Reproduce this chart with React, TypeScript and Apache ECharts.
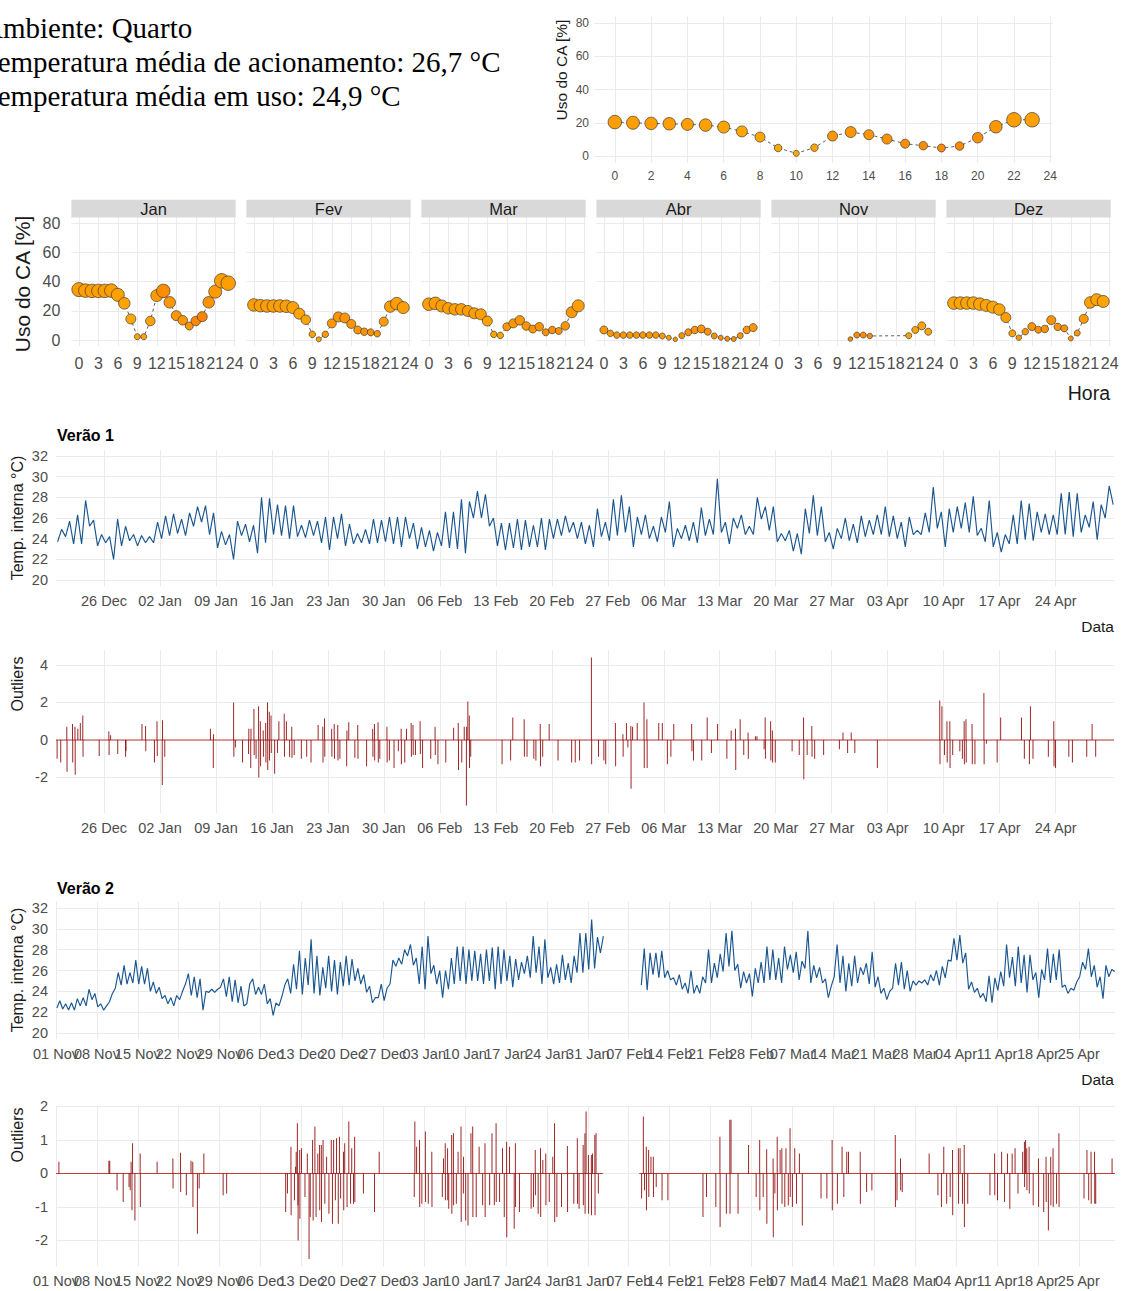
import React, { useEffect, useRef } from 'react';
import * as echarts from 'echarts';

// ---------------- DATA ----------------
const horas = [0, 1, 2, 3, 4, 5, 6, 7, 8, 9, 10, 11, 12, 13, 14, 15, 16, 17, 18, 19, 20, 21, 22, 23];
const horasTicks2 = [0, 2, 4, 6, 8, 10, 12, 14, 16, 18, 20, 22, 24];
const horasTicks3 = [0, 3, 6, 9, 12, 15, 18, 21, 24];
const usoTicks = [0, 20, 40, 60, 80];

// overall hourly AC use (%), marker weight and colour tone
const usoGeral = [20.4, 20, 19.6, 19.4, 19, 18.6, 17.4, 14.8, 11.4, 4.8, 1.6, 5, 12, 14.4, 12.8, 10.2, 7.4, 6.2, 4.8, 6, 11, 17.6, 21.8, 21.8];
const pesoGeral = [13.5, 13, 12.5, 12.5, 12, 12.5, 12, 11, 10, 7.5, 6, 7.5, 10, 11, 10, 10, 9, 8.5, 8, 8.5, 10.5, 12.5, 14.5, 14.5];
const tomGeral = [0.4, 0.4, 0.4, 0.4, 0.4, 0.35, 0.3, 0.25, 0.3, 0.2, 0.2, 0.3, 0.5, 0.55, 0.55, 0.6, 0.65, 0.7, 0.75, 0.75, 0.65, 0.5, 0.4, 0.35];

const meses = ['Jan', 'Fev', 'Mar', 'Abr', 'Nov', 'Dez'];
const usoJan = [34.5, 33.8, 33.6, 33.6, 33.6, 33.8, 30.9, 25.1, 14.4, 2.3, 2.3, 13, 30.4, 33.6, 25.8, 16.7, 13.5, 9.6, 13, 16, 25.8, 33.1, 40.5, 38.9];
const pesoJan = [14, 13.5, 13.5, 13.5, 13.5, 13.5, 13, 11.5, 10, 6, 6, 9.5, 12, 13.5, 11.5, 10, 9.5, 8, 9.5, 10, 11.5, 13, 14.5, 14.5];
const tomJan = [0.4, 0.4, 0.4, 0.4, 0.4, 0.4, 0.35, 0.3, 0.3, 0.3, 0.3, 0.35, 0.45, 0.7, 0.5, 0.5, 0.5, 0.5, 0.8, 0.85, 0.6, 0.45, 0.4, 0.4];
const usoFev = [24, 23.5, 23.3, 23.3, 23.3, 23.1, 22.2, 18, 13.9, 3.9, 0.5, 3.9, 11.4, 15.8, 15.1, 11, 6.9, 5.7, 5.3, 4.3, 12.6, 22.9, 24.9, 22.2];
const pesoFev = [12.5, 12.5, 12.5, 12.5, 12.5, 12.5, 12, 11, 9.5, 6.5, 5, 6.5, 9, 10, 10, 9, 8, 7.5, 7, 6.5, 9, 11.5, 12.5, 12];
const tomFev = [0.4, 0.4, 0.4, 0.4, 0.4, 0.4, 0.35, 0.3, 0.3, 0.3, 0.3, 0.45, 0.5, 0.55, 0.55, 0.55, 0.55, 0.6, 0.6, 0.5, 0.45, 0.4, 0.4, 0.4];
const usoMar = [24.5, 25.1, 23.3, 21.7, 21, 21, 19.9, 18.3, 17.6, 13, 3.9, 3.2, 9.1, 11.4, 13.5, 9.6, 7.5, 9.1, 5.3, 6.9, 6.2, 9.7, 19, 23.4];
const pesoMar = [12.5, 12.5, 12, 11.5, 11.5, 11.5, 11, 11, 11, 10, 6.5, 6.5, 8, 9, 9.5, 8.5, 8, 8.5, 7, 7.5, 7, 8.5, 11, 12];
const tomMar = [0.4, 0.4, 0.4, 0.4, 0.4, 0.4, 0.4, 0.4, 0.4, 0.35, 0.3, 0.3, 0.5, 0.5, 0.55, 0.55, 0.55, 0.6, 0.65, 0.65, 0.6, 0.55, 0.5, 0.4];
const usoAbr = [6.9, 4.6, 3.4, 3.4, 3.4, 3.4, 3.4, 3.4, 3.4, 2.8, 1.6, 0.5, 3, 5.3, 6.9, 7.6, 5.7, 2.8, 1.6, 0.9, 0.7, 3, 6.9, 8.5];
const pesoAbr = [8, 6.5, 6.5, 6.5, 6.5, 6.5, 6.5, 6.5, 6.5, 6, 5, 4.5, 6, 7, 7.5, 8, 7, 6, 5, 5, 5, 6, 7.5, 8];
const tomAbr = [0.5, 0.5, 0.5, 0.5, 0.5, 0.5, 0.5, 0.5, 0.5, 0.45, 0.5, 0.6, 0.6, 0.6, 0.6, 0.6, 0.6, 0.65, 0.65, 0.65, 0.65, 0.6, 0.55, 0.5];
const usoNov = [null, null, null, null, null, null, null, null, null, null, null, 0.7, 3.4, 3.4, 2.8, null, null, null, null, null, 3.0, 6.9, 9.7, 5.7];
const pesoNov = [null, null, null, null, null, null, null, null, null, null, null, 4.5, 6, 6, 5.5, null, null, null, null, null, 6, 7, 8, 7];
const tomNov = [null, null, null, null, null, null, null, null, null, null, null, 0.7, 0.7, 0.7, 0.7, null, null, null, null, null, 0.3, 0.3, 0.3, 0.3];
const usoDez = [25.3, 25.3, 25.3, 25.3, 24.6, 23.7, 22.5, 20.9, 15.4, 4.6, 1.6, 5.7, 9.2, 7.1, 7.6, 13.6, 9, 8, 1.1, 4.8, 14.5, 25.7, 27.6, 26.4];
const pesoDez = [12.5, 12.5, 12.5, 12.5, 12.5, 12, 12, 11.5, 10, 7, 5.5, 6.5, 8, 7, 7.5, 9, 7.5, 7, 5, 6, 9, 11.5, 12, 12];
const tomDez = [0.3, 0.3, 0.3, 0.3, 0.3, 0.3, 0.3, 0.3, 0.4, 0.35, 0.5, 0.55, 0.6, 0.6, 0.6, 0.6, 0.6, 0.6, 0.6, 0.5, 0.45, 0.35, 0.3, 0.3];

// Verão 1: indoor temperature, two readings per day (morning low, afternoon high) from 20 Dec
const v1Temp = [
  23.7, 24.9, 24.2, 25.7, 23.5, 26.3, 23.5, 27.7, 25.2, 25.8, 23.3, 24.4, 23.6, 24.2, 22.0, 25.9, 23.3, 25.2, 23.8, 24.4,
  23.3, 24.3, 23.6, 24.2, 23.6, 25.6, 24.0, 26.2, 24.3, 26.4, 24.5, 25.9, 24.3, 26.5, 25.2, 27.1, 25.6, 27.2, 24.4, 26.5,
  23.1, 24.7, 23.4, 24.4, 22.0, 25.7, 24.3, 25.4, 23.7, 25.3, 22.6, 28.0, 23.6, 27.9, 24.4, 27.3, 24.3, 27.2, 24.0, 27.2,
  24.2, 25.3, 24.1, 25.8, 24.3, 25.7, 23.6, 26.1, 22.9, 26.1, 24.0, 26.4, 23.3, 25.4, 23.5, 24.5, 23.6, 24.9, 23.5, 25.9,
  23.6, 25.8, 23.7, 26.1, 23.5, 26.1, 23.2, 26.1, 24.0, 25.5, 23.0, 25.1, 23.2, 24.8, 22.8, 24.6, 23.3, 26.6, 23.1, 26.6,
  23.0, 27.8, 22.6, 27.6, 26.0, 28.6, 26.0, 28.3, 25.2, 26.0, 23.3, 25.5, 22.9, 25.5, 23.1, 25.9, 22.9, 25.8, 23.2, 25.3,
  23.2, 26.0, 22.9, 25.9, 24.0, 25.9, 24.3, 26.2, 24.6, 25.6, 24.0, 25.6, 23.5, 25.3, 23.2, 26.9, 24.2, 25.6, 23.8, 27.8,
  24.3, 28.2, 24.6, 27.1, 23.2, 26.1, 24.4, 26.3, 24.0, 25.2, 23.7, 26.1, 24.6, 27.6, 23.2, 25.0, 24.0, 25.3, 23.8, 25.6,
  23.6, 27.0, 24.3, 25.9, 24.4, 29.8, 24.6, 25.6, 23.5, 26.0, 25.0, 26.3, 24.4, 25.2, 24.4, 28.0, 25.9, 27.1, 24.8, 27.1,
  23.7, 24.5, 23.8, 24.8, 22.8, 24.5, 22.5, 26.9, 24.5, 28.2, 24.3, 27.1, 23.7, 24.6, 23.0, 25.0, 24.0, 26.0, 23.8, 25.4,
  23.6, 26.2, 24.2, 25.8, 24.4, 26.3, 24.4, 27.1, 24.2, 26.2, 24.0, 25.6, 23.2, 26.1, 24.4, 24.8, 24.4, 26.5, 24.6, 29.0,
  25.0, 26.6, 23.2, 26.9, 24.6, 27.1, 25.0, 27.5, 24.6, 28.1, 24.3, 25.0, 23.7, 27.7, 23.2, 24.6, 22.7, 24.4, 23.5, 26.3,
  23.5, 27.7, 23.9, 27.4, 23.8, 26.6, 24.6, 26.4, 24.4, 26.3, 24.4, 28.4, 24.4, 28.5, 24.2, 28.4, 24.6, 26.3, 25.1, 27.6,
  23.9, 27.3, 26.0, 29.1, 27.3,
];
const v1TickDias = [6, 13, 20, 27, 34, 41, 48, 55, 62, 69, 76, 83, 90, 97, 104, 111, 118, 125];
const v1TickRotulos = ['26 Dec', '02 Jan', '09 Jan', '16 Jan', '23 Jan', '30 Jan', '06 Feb', '13 Feb', '20 Feb', '27 Feb', '06 Mar', '13 Mar', '20 Mar', '27 Mar', '03 Apr', '10 Apr', '17 Apr', '24 Apr'];
// [day since 20 Dec, outlier value]
const v1Outliers = [
  [0.14, -1.0], [0.59, -1.2], [1.35, 0.7], [1.38, -1.7], [2.06, 0.85], [2.09, -1.2], [2.37, 0.7], [2.40, -1.85], [2.73, 0.6], [3.04, 0.9],
  [3.35, 1.3], [3.38, -0.9], [5.40, -0.85], [6.61, 0.45], [6.64, -0.8], [6.83, 0.25], [7.72, -0.75], [8.70, -0.9], [8.75, -0.6], [10.75, 0.85],
  [11.20, 0.75], [11.23, -0.6], [12.31, -1.2], [12.63, 1.0], [12.66, -0.85], [13.29, -2.4], [13.32, 1.05], [13.60, -0.9], [19.31, 0.6], [19.67, -1.5],
  [19.70, 0.3], [22.21, 2.0], [22.24, -0.9], [22.43, -0.4], [23.32, -1.2], [24.08, -0.75], [24.11, 0.6], [24.35, -1.5], [24.38, 0.6], [24.75, 1.65],
  [24.78, -0.8], [25.02, -1.0], [25.33, 1.8], [25.36, -2.0], [25.55, 1.0], [25.58, -1.4], [25.91, 0.5], [25.94, -0.9], [26.22, 0.9], [26.25, -1.2],
  [26.45, 2.0], [26.48, -1.6], [26.67, 1.5], [26.70, -1.1], [26.89, 1.3], [26.92, -0.7], [27.34, -1.8], [27.69, -0.7], [27.87, 1.0], [28.54, 1.4],
  [28.57, -0.9], [28.81, 1.0], [29.21, -0.9], [29.48, 0.7], [29.51, -0.95], [29.79, -0.8], [30.68, -1.0], [31.35, -0.9], [31.89, -1.2], [32.78, 0.8],
  [33.36, 0.7], [33.39, -1.2], [33.58, 1.15], [33.61, -0.9], [34.47, 0.6], [34.50, -0.9], [34.79, 0.85], [34.82, -1.0], [35.23, 0.8], [35.26, -1.1],
  [35.50, -1.0], [36.35, -1.4], [36.38, 0.5], [36.61, 0.95], [37.37, -0.95], [37.73, 0.8], [37.76, -1.0], [38.84, -1.4], [39.60, 0.6], [39.63, -0.9],
  [39.82, 0.85], [39.85, -1.1], [40.27, 0.95], [40.30, -1.2], [40.49, -1.0], [41.38, 0.7], [41.41, -1.2], [41.69, -1.1], [42.27, -1.5], [42.81, -0.6],
  [43.16, 0.6], [43.19, -1.3], [43.61, -1.2], [43.83, 0.6], [44.41, 0.9], [44.44, -0.9], [44.64, 0.8], [44.67, -0.8], [44.95, -0.8], [45.53, 1.0],
  [45.56, -0.75], [45.84, -1.5], [46.86, -1.0], [47.40, 0.7], [47.43, -0.8], [47.76, -1.3], [48.74, -1.2], [49.72, 0.65], [50.30, 0.9], [50.33, -1.6],
  [50.74, -1.2], [51.05, 0.7], [51.32, -3.5], [51.35, 0.7], [51.50, 2.05], [51.68, 1.3], [51.71, -1.5], [51.86, -0.9], [55.78, -1.3], [56.85, -1.1],
  [57.12, 1.2], [58.54, 1.1], [58.57, -0.9], [58.90, -0.9], [59.75, -1.0], [60.01, -1.1], [60.55, 0.85], [60.58, -1.4], [60.86, -0.9], [61.67, 0.85],
  [62.78, -1.1], [64.48, -1.2], [64.93, -1.2], [65.47, -1.1], [66.95, 4.4], [66.98, -1.3], [67.84, -0.9], [68.51, -1.1], [68.74, -1.3], [69.95, 0.9],
  [69.98, -1.4], [70.89, 0.3], [70.92, -0.9], [71.33, 0.9], [71.51, -0.4], [71.88, 0.75], [71.91, -2.6], [72.10, 0.7], [72.68, 0.9], [73.53, 2.0],
  [73.56, -1.5], [73.89, 1.1], [73.92, -1.5], [75.37, 0.9], [75.82, 0.9], [76.45, -1.3], [76.89, -0.9], [77.25, 0.85], [79.49, 0.85], [79.52, -0.6],
  [79.72, -1.1], [80.75, -1.1], [81.43, 1.2], [81.96, -0.7], [82.73, 0.85], [83.89, -1.0], [84.43, 0.5], [84.97, 0.6], [85.00, -1.6], [85.55, 1.1],
  [86.00, -0.8], [86.54, 0.4], [86.57, -1.0], [87.46, 0.2], [87.65, 0.2], [88.55, -0.5], [88.68, 1.2], [88.71, -1.0], [89.36, 1.0], [89.39, -1.1],
  [89.58, 0.5], [89.61, -1.2], [89.94, -1.2], [92.05, -0.6], [92.94, -0.8], [93.48, 1.2], [93.51, -2.1], [93.93, -0.8], [94.51, 0.75], [94.54, -0.9],
  [94.87, -1.0], [95.99, -0.8], [97.96, -0.5], [98.41, 0.4], [98.99, -0.7], [99.44, 0.4], [99.89, -0.7], [102.71, -1.5], [110.51, 2.1], [110.54, -1.3],
  [110.78, 1.8], [111.10, -0.8], [111.41, 1.0], [111.44, -1.2], [111.77, 1.0], [111.80, -1.5], [112.13, -0.8], [113.02, -0.6], [113.34, -1.0], [113.56, 1.0],
  [113.59, -1.3], [113.79, 1.1], [113.82, -1.2], [114.55, 0.85], [114.58, -1.3], [114.91, -1.3], [116.03, 2.5], [116.06, -1.3], [116.34, -0.2], [117.69, -1.2],
  [118.13, 1.2], [120.73, 1.2], [121.09, -1.0], [121.72, -1.3], [121.85, 1.8], [122.17, -1.0], [124.09, -0.9], [124.77, 1.0], [124.80, -1.4], [124.99, -1.5],
  [126.65, -0.9], [127.10, -1.2], [128.89, -0.9], [129.56, 0.85], [130.01, -0.9],
];
const v1Trechos = [[0, 132.3]];

// Verão 2: indoor temperature, two readings per day from 01 Nov (null = no data)
const v2Temp = [
  22.4, 23.1, 22.3, 22.8, 22.2, 22.9, 22.2, 23.3, 22.6, 23.4, 22.6, 24.2, 23.2, 23.8, 22.5, 22.8, 22.2, 22.6, 23.0, 23.8,
  24.3, 25.8, 24.6, 26.5, 24.7, 25.8, 24.8, 27.0, 24.7, 26.4, 24.7, 26.2, 24.0, 24.9, 23.8, 24.4, 23.3, 23.6, 22.8, 23.4,
  22.6, 23.6, 23.2, 24.0, 24.7, 25.7, 23.6, 25.4, 23.4, 25.2, 22.2, 24.0, 23.9, 24.2, 23.9, 24.2, 24.4, 25.2, 23.5, 25.4,
  23.0, 25.1, 22.9, 24.5, 22.6, 22.8, 24.7, 25.2, 23.7, 24.4, 23.7, 24.7, 22.8, 23.3, 21.7, 22.9, 22.6, 23.5, 24.6, 25.2,
  23.8, 26.6, 24.2, 27.9, 23.7, 27.2, 24.6, 29.0, 23.8, 27.4, 23.6, 26.3, 24.3, 27.4, 24.0, 27.0, 23.7, 26.8, 24.5, 27.4,
  24.6, 27.1, 25.0, 26.2, 24.7, 25.6, 23.9, 24.5, 22.9, 23.4, 23.4, 24.7, 23.1, 24.3, 24.7, 27.0, 26.4, 27.2, 26.6, 28.0,
  27.4, 28.5, 26.5, 27.2, 24.7, 28.3, 24.2, 29.3, 25.7, 26.5, 24.7, 26.0, 23.4, 26.0, 24.2, 27.2, 24.7, 28.3, 25.0, 28.3,
  24.7, 28.0, 25.0, 27.9, 25.0, 27.6, 24.7, 28.0, 25.0, 28.2, 24.2, 28.3, 24.7, 28.0, 25.0, 27.4, 24.4, 27.1, 25.1, 26.8,
  25.7, 27.4, 25.3, 29.3, 25.8, 28.3, 24.7, 29.0, 25.3, 26.3, 24.7, 26.6, 24.8, 27.5, 25.1, 26.7, 24.8, 27.4, 25.8, 29.6,
  25.8, 29.6, 26.1, 30.9, 26.2, 29.2, 27.7, 29.3,
  null, null, null, null, null, null, null, null, null, null, null, null,
  24.6, 28.1, 24.1, 27.7, 25.6, 27.7, 25.3, 27.9, 25.3, 26.0, 25.1, 25.3, 24.6, 25.6, 24.2, 24.8, 23.8, 26.0, 23.8, 24.6,
  23.8, 25.4, 24.8, 28.0, 24.8, 26.7, 25.3, 27.6, 25.9, 29.6, 26.4, 29.8, 26.0, 26.6, 24.3, 25.9, 24.8, 25.7, 23.5, 26.2,
  24.8, 26.8, 24.8, 28.3, 25.1, 28.0, 25.1, 27.2, 24.8, 28.3, 26.1, 27.5, 25.8, 27.8, 25.1, 26.9, 26.2, 29.8, 24.8, 26.5,
  25.3, 26.3, 24.8, 25.2, 23.4, 24.5, 25.4, 28.5, 24.8, 27.4, 24.0, 26.7, 24.5, 27.4, 24.8, 26.3, 25.6, 26.7, 24.7, 27.8,
  24.4, 25.4, 23.8, 24.3, 23.2, 24.0, 24.3, 26.7, 24.6, 26.8, 24.2, 26.0, 24.0, 25.0, 24.6, 25.0, 24.8, 25.1, 24.6, 25.6,
  25.0, 26.0, 24.6, 26.4, 25.3, 27.0, 26.9, 29.1, 27.0, 29.4, 26.7, 27.7, 24.2, 24.9, 23.9, 24.3, 23.4, 23.8, 23.0, 25.5,
  22.9, 25.3, 24.1, 25.9, 24.5, 28.5, 25.3, 27.3, 24.5, 28.3, 24.8, 27.5, 23.9, 27.5, 25.1, 25.8, 23.4, 26.1, 25.1, 28.1,
  24.8, 27.6, 25.1, 28.0, 24.4, 24.6, 23.8, 24.3, 24.1, 24.9, 25.4, 26.8, 26.1, 28.1, 25.4, 26.5, 24.4, 25.4, 23.3, 26.5,
  25.4, 26.1, 25.9,
];
const v2TickDias = [0, 7, 14, 21, 28, 35, 42, 49, 56, 63, 70, 77, 84, 91, 98, 105, 112, 119, 126, 133, 140, 147, 154, 161, 168, 175];
const v2TickRotulos = ['01 Nov', '08 Nov', '15 Nov', '22 Nov', '29 Nov', '06 Dec', '13 Dec', '20 Dec', '27 Dec', '03 Jan', '10 Jan', '17 Jan', '24 Jan', '31 Jan', '07 Feb', '14 Feb', '21 Feb', '28 Feb', '07 Mar', '14 Mar', '21 Mar', '28 Mar', '04 Apr', '11 Apr', '18 Apr', '25 Apr'];
// [day since 01 Nov, outlier value]
const v2Outliers = [
  [0.5, 0.35], [9.05, 0.38], [9.2, 0.38], [10.45, -0.5], [11.5, -0.85], [12.5, -0.4], [12.7, -0.5], [12.85, 0.35], [13.0, -1.1], [13.1, 0.9],
  [13.5, -1.4], [14.4, 0.6], [14.43, -1.0], [17.3, 0.35], [20.0, 0.45], [20.03, -0.45], [21.3, 0.62], [21.33, -0.55], [22.3, -0.65], [23.1, 0.38],
  [23.4, 0.35], [23.43, -1.0], [24.2, -1.8], [24.5, -0.45], [25.3, 0.6], [28.6, -0.65], [29.2, -0.6], [39.3, -1.15], [39.6, -0.6], [40.2, 0.8],
  [40.23, -1.25], [40.8, -0.8], [41.0, 0.2], [41.1, 0.65], [41.3, 1.5], [41.4, -0.95], [41.43, -2.0], [41.7, 0.7], [41.73, -1.35], [42.0, 0.75],
  [42.6, -0.7], [43.0, 0.6], [43.3, -2.55], [43.5, -1.3], [43.9, 1.0], [44.0, -1.4], [44.3, 1.4], [44.5, -1.3], [44.8, 0.6], [45.1, 0.85],
  [45.13, -1.1], [45.4, 0.85], [45.43, -1.45], [45.7, 1.0], [46.0, -0.9], [46.3, 0.5], [46.7, -1.2], [47.1, 1.0], [47.3, -1.5], [47.5, 1.0],
  [47.8, -0.8], [48.0, 1.05], [48.3, -1.5], [48.5, 1.1], [48.7, -0.75], [49.2, 0.65], [49.23, -1.1], [49.4, 0.9], [49.8, -1.0], [50.1, 1.55],
  [50.4, -0.9], [50.6, 0.75], [50.9, -0.9], [51.1, 1.1], [51.13, -0.85], [52.6, -0.6], [54.5, -1.15], [55.3, 0.65], [61.3, -0.7], [61.4, 1.55],
  [61.7, 0.8], [62.2, 1.0], [62.23, -1.0], [62.6, -0.9], [63.2, 1.25], [63.23, -0.85], [63.7, -0.9], [64.3, 0.65], [64.33, -1.0], [66.1, -0.7],
  [66.3, 0.45], [66.6, 0.9], [66.63, -0.8], [67.0, 0.75], [67.03, -0.8], [67.2, -1.05], [67.7, 1.15], [67.73, -1.2], [68.0, 1.2], [68.03, -0.95],
  [68.5, -0.9], [68.8, 0.65], [69.3, 1.4], [69.33, -1.45], [69.7, -0.6], [69.73, 0.5], [70.1, -1.4], [70.5, -1.55], [71.0, 1.2], [71.3, 1.4],
  [71.33, -1.3], [71.9, -1.3], [72.4, 0.8], [73.0, -0.95], [73.4, 0.9], [73.43, -1.3], [74.2, -0.95], [74.6, 1.2], [75.0, -0.95], [75.3, 1.5],
  [75.33, -0.85], [75.9, -0.85], [76.4, 0.75], [76.7, -1.3], [77.1, 0.95], [77.13, -1.9], [77.6, 0.8], [78.4, -1.65], [78.6, 0.9], [78.63, -1.0],
  [79.3, -1.15], [81.3, -1.05], [81.7, -1.0], [82.0, 0.7], [82.03, -0.65], [82.5, -1.2], [82.9, 0.75], [82.93, -1.3], [83.3, 0.4], [83.8, 0.6],
  [83.83, -0.95], [84.4, -0.85], [85.0, 0.5], [85.3, 1.5], [85.33, -1.45], [85.7, -1.3], [86.5, -1.0], [87.5, 0.82], [87.53, -1.15], [88.6, -0.9],
  [89.2, 1.05], [89.23, -0.9], [89.5, -1.05], [90.2, 0.85], [90.23, -0.95], [90.5, 1.2], [90.53, -1.2], [90.7, 1.85], [91.1, 0.55], [91.13, -1.2],
  [91.6, 0.55], [91.63, -1.25], [91.8, 0.6], [92.2, 1.15], [92.23, -1.25], [92.4, 1.2], [92.8, -0.6], [100.2, -0.75], [100.5, 1.7], [100.7, -0.5],
  [101.0, 0.8], [101.03, -1.1], [101.4, 0.7], [101.43, -0.7], [101.8, 0.5], [102.2, 0.5], [102.23, -0.7], [102.7, -0.4], [103.7, -0.8], [104.7, -0.8],
  [110.7, -1.3], [111.3, -0.7], [112.9, -1.0], [113.6, 1.1], [113.63, -1.6], [114.7, -1.2], [115.3, 1.6], [115.33, -1.2], [115.5, 1.6], [116.7, -1.2],
  [118.5, 0.85], [119.8, -0.7], [120.4, 1.0], [120.43, -1.1], [121.0, -0.7], [121.6, 0.72], [121.63, -1.5], [122.7, 0.45], [122.73, -1.9], [123.0, -0.6],
  [123.4, 1.1], [123.43, -1.1], [123.9, 0.7], [124.2, 0.75], [124.23, -0.9], [124.7, -1.0], [124.9, 0.75], [125.3, -0.95], [125.6, 1.35], [125.63, -0.7],
  [126.0, -1.0], [126.4, 0.75], [126.7, -0.9], [127.2, 0.6], [127.7, -1.55], [130.9, -0.75], [131.9, -0.75], [132.8, 1.0], [132.83, -1.1], [133.7, -0.9],
  [134.5, 0.8], [134.8, -0.7], [135.3, 0.65], [135.6, 0.65], [137.6, 0.65], [137.63, -0.9], [138.7, -0.55], [139.6, -0.5], [143.6, 1.15], [143.63, -1.0],
  [143.9, -0.8], [144.5, 0.45], [144.53, -0.5], [144.8, -0.55], [149.4, 0.6], [150.9, -0.65], [151.5, -1.0], [151.9, 0.8], [152.4, -0.9], [153.0, -0.7],
  [153.4, 0.7], [153.43, -1.25], [154.4, 0.75], [154.43, -0.9], [154.7, 0.75], [155.1, -0.9], [155.4, 0.85], [155.43, -1.6], [156.0, -0.9], [159.8, -0.65],
  [160.6, 0.6], [160.63, -0.65], [161.1, -0.8], [161.8, 0.65], [162.3, -0.85], [162.8, 0.6], [163.2, -1.05], [163.6, 0.6], [164.1, 0.75], [164.6, -0.6],
  [165.4, 0.65], [165.7, 0.95], [165.73, -0.4], [165.9, 1.0], [166.1, 0.75], [166.13, -0.5], [166.5, 0.8], [166.53, -0.6], [167.2, -0.95], [168.1, 0.45],
  [168.13, -1.0], [169.0, -1.15], [169.4, 0.5], [169.43, -0.85], [169.8, -1.7], [170.2, 0.5], [170.23, -0.95], [170.6, 0.75], [170.63, -1.0], [171.2, -0.9],
  [171.6, 1.2], [171.63, -1.0], [175.9, -0.75], [176.4, 0.7], [176.7, -0.8], [177.1, 0.65], [177.13, -0.9], [177.7, 0.65], [177.73, -0.9], [177.9, -0.9],
  [180.7, 0.45],
];
const v2Trechos = [[0, 93.6], [99.8, 181.2]];

const tempTicks = [20, 22, 24, 26, 28, 30, 32];
const out1Ticks = [-2, 0, 2, 4];
const out2Ticks = [-2, -1, 0, 1, 2];

// ---------------- STYLE ----------------
const SANS = "'Liberation Sans', Arial, Helvetica, sans-serif";
const SERIF = "'Liberation Serif', 'Times New Roman', Times, serif";
const GRID = '#EBEBEB';
const TXT = '#4D4D4D';
const TITLE = '#1A1A1A';
const LINE_BLUE = '#1A5690';
const SPIKE = 'rgba(139,0,0,0.85)';
const BASE = 'rgba(178,30,30,0.85)';
const ORANGE_LIGHT = [255, 182, 0];
const ORANGE_DARK = [255, 122, 0];

function corTom(t: number) {
  const c = ORANGE_LIGHT.map((a, i) => Math.round(a + (ORANGE_DARK[i] - a) * t));
  return `rgb(${c[0]},${c[1]},${c[2]})`;
}

function eixo(gridIndex: number, min: number, max: number, ticks: number[], o: any) {
  return {
    type: 'value',
    gridIndex,
    min,
    max,
    position: o.position,
    axisLine: { show: false },
    axisTick: { show: false, customValues: ticks },
    axisLabel: {
      show: o.show !== false,
      customValues: o.labelTicks || ticks,
      showMinLabel: true,
      showMaxLabel: true,
      hideOverlap: false,
      fontSize: o.fs,
      color: TXT,
      fontFamily: SANS,
      margin: o.margin,
      formatter: o.fmt,
    },
    splitLine: { show: o.split !== false, lineStyle: { color: GRID, width: 1 } },
  };
}

function texto(x: number, y: number, text: string, o: any = {}) {
  const align = o.align || 'left';
  return {
    type: 'text',
    x,
    y,
    rotation: o.rot || 0,
    silent: true,
    z: 100,
    style: {
      text,
      fill: o.color || TITLE,
      font: `${o.weight || 'normal'} ${o.size || 14}px ${o.family || SANS}`,
      align,
      textAlign: align,
      verticalAlign: 'middle',
      textVerticalAlign: 'middle',
    },
  };
}

function buildOption() {
  const grid: any[] = [];
  const xAxis: any[] = [];
  const yAxis: any[] = [];
  const series: any[] = [];
  const elements: any[] = [];

  const addDots = (gi: number, uso: any[], peso: any[], tom: any[]) => {
    const pts = horas.map((h, i) => [h, uso[i], peso[i], tom[i]]).filter((p) => p[1] != null);
    series.push({
      type: 'line', xAxisIndex: gi, yAxisIndex: gi, data: pts.map((p) => [p[0], p[1]]),
      symbol: 'none', silent: true, z: 2,
      lineStyle: { color: '#333333', width: 0.8, type: [3, 3] },
    });
    series.push({
      type: 'scatter', xAxisIndex: gi, yAxisIndex: gi, data: pts, silent: true, z: 3,
      symbolSize: (v: any) => v[2],
      itemStyle: { color: (p: any) => corTom(p.value[3]), borderColor: '#3a3a3a', borderWidth: 0.7, opacity: 1 },
    });
  };

  // ---- top overall scatter ----
  grid.push({ left: 594, top: 16.35, width: 459, height: 146.3 });
  xAxis.push(eixo(0, -1.15, 24.15, horasTicks2, { fs: 12, margin: 7 }));
  yAxis.push(eixo(0, -4, 84, usoTicks, { fs: 12, margin: 5 }));
  addDots(0, usoGeral, pesoGeral, tomGeral);
  elements.push(texto(561, 70, 'Uso do CA [%]', { rot: Math.PI / 2, align: 'center', size: 15.5 }));

  // ---- monthly facets ----
  const facetas = [
    [usoJan, pesoJan, tomJan], [usoFev, pesoFev, tomFev], [usoMar, pesoMar, tomMar],
    [usoAbr, pesoAbr, tomAbr], [usoNov, pesoNov, tomNov], [usoDez, pesoDez, tomDez],
  ];
  facetas.forEach((f, i) => {
    const gi = 1 + i;
    const left = 71.4 + 175 * i;
    grid.push({ left, top: 217.2, width: 164.3, height: 128.7 });
    xAxis.push(eixo(gi, -1.15, 24.15, horasTicks3, { fs: 16, margin: 10 }));
    yAxis.push(eixo(gi, -4, 84, usoTicks, { fs: 16, margin: 11, show: i === 0 }));
    addDots(gi, f[0], f[1], f[2]);
    elements.push({ type: 'rect', silent: true, z: 50, shape: { x: left, y: 199.8, width: 164.3, height: 17.6 }, style: { fill: '#D9D9D9' } });
    elements.push(texto(left + 82.15, 208.8, meses[i], { align: 'center', size: 16.5 }));
  });
  elements.push(texto(22, 284, 'Uso do CA [%]', { rot: Math.PI / 2, align: 'center', size: 21 }));
  elements.push(texto(1110, 393, 'Hora', { align: 'right', size: 19.5 }));

  const fmtDias = (dias: number[], rot: string[]) => (v: number) => {
    const k = dias.indexOf(Math.round(v));
    return k >= 0 ? rot[k] : '';
  };
  const baseData = (trechos: number[][]) => {
    const d: any[] = [];
    trechos.forEach((t, k) => {
      if (k > 0) d.push([(trechos[k - 1][1] + t[0]) / 2, '-']);
      d.push([t[0], 0], [t[1], 0]);
    });
    return d;
  };

  // ---- Verão 1 temperature ----
  grid.push({ left: 56, top: 449.8, width: 1058, height: 136.4 });
  xAxis.push(eixo(7, 0, 132.3, v1TickDias, { fs: 14.5, margin: 7, fmt: fmtDias(v1TickDias, v1TickRotulos) }));
  yAxis.push(eixo(7, 19.4, 32.6, tempTicks, { fs: 14.5, margin: 8 }));
  series.push({
    type: 'line', xAxisIndex: 7, yAxisIndex: 7, symbol: 'none', silent: true,
    data: v1Temp.map((v, i) => [0.2 + 0.5 * i, v]),
    lineStyle: { color: LINE_BLUE, width: 1.15 },
  });
  elements.push(texto(57, 435, 'Verão 1', { weight: 'bold', size: 16, color: '#000' }));
  elements.push(texto(17, 518, 'Temp. interna °C)', { rot: Math.PI / 2, align: 'center', size: 16 }));
  elements.push(texto(1114, 626, 'Data', { align: 'right', size: 15.5 }));

  // ---- Verão 1 outliers ----
  grid.push({ left: 56, top: 650, width: 1058, height: 163.1 });
  xAxis.push(eixo(8, 0, 132.3, v1TickDias, { fs: 14.5, margin: 7, fmt: fmtDias(v1TickDias, v1TickRotulos) }));
  yAxis.push(eixo(8, -3.9, 4.8, out1Ticks, { fs: 14.5, margin: 8 }));
  series.push({
    type: 'line', xAxisIndex: 8, yAxisIndex: 8, symbol: 'none', silent: true, z: 2,
    data: baseData(v1Trechos), lineStyle: { color: BASE, width: 1 },
  });
  series.push({
    type: 'bar', xAxisIndex: 8, yAxisIndex: 8, silent: true, barWidth: 1, z: 3,
    data: v1Outliers, itemStyle: { color: SPIKE },
  });
  elements.push(texto(17, 684, 'Outliers', { rot: Math.PI / 2, align: 'center', size: 16 }));

  // Verão 2 tick labels split in two interleaved sets so that every label is kept
  const v2Pares = v2TickDias.filter((_, i) => i % 2 === 0);
  const v2Impares = v2TickDias.filter((_, i) => i % 2 === 1);
  const v2Fmt = fmtDias(v2TickDias, v2TickRotulos);

  // ---- Verão 2 temperature ----
  grid.push({ left: 56, top: 901.75, width: 1059, height: 137.5 });
  xAxis.push(eixo(9, 0, 181.2, v2TickDias, { fs: 14.5, margin: 7, fmt: v2Fmt, labelTicks: v2Pares, position: 'bottom' }));
  yAxis.push(eixo(9, 19.4, 32.6, tempTicks, { fs: 14.5, margin: 8 }));
  series.push({
    type: 'line', xAxisIndex: 9, yAxisIndex: 9, symbol: 'none', silent: true, connectNulls: false,
    data: v2Temp.map((v, i) => [0.15 + 0.5 * i, v == null ? '-' : v]),
    lineStyle: { color: LINE_BLUE, width: 1.15 },
  });
  elements.push(texto(57, 888, 'Verão 2', { weight: 'bold', size: 16, color: '#000' }));
  elements.push(texto(17, 970, 'Temp. interna °C)', { rot: Math.PI / 2, align: 'center', size: 16 }));
  elements.push(texto(1114, 1079, 'Data', { align: 'right', size: 15.5 }));

  // ---- Verão 2 outliers ----
  grid.push({ left: 56, top: 1105.8, width: 1059, height: 160.5 });
  xAxis.push(eixo(10, 0, 181.2, v2TickDias, { fs: 14.5, margin: 7, fmt: v2Fmt, labelTicks: v2Pares, position: 'bottom' }));
  yAxis.push(eixo(10, -2.77, 2.02, out2Ticks, { fs: 14.5, margin: 8 }));
  series.push({
    type: 'line', xAxisIndex: 10, yAxisIndex: 10, symbol: 'none', silent: true, z: 2,
    data: baseData(v2Trechos), lineStyle: { color: BASE, width: 1 },
  });
  series.push({
    type: 'bar', xAxisIndex: 10, yAxisIndex: 10, silent: true, barWidth: 1, z: 3,
    data: v2Outliers, itemStyle: { color: SPIKE },
  });
  elements.push(texto(17, 1135, 'Outliers', { rot: Math.PI / 2, align: 'center', size: 16 }));

  // secondary label-only axes for the odd Verão 2 ticks (indices 11, 12)
  xAxis.push(eixo(9, 0, 181.2, v2Impares, { fs: 14.5, margin: 7, fmt: v2Fmt, split: false, position: 'bottom' }));
  xAxis.push(eixo(10, 0, 181.2, v2Impares, { fs: 14.5, margin: 7, fmt: v2Fmt, split: false, position: 'bottom' }));

  // ---- header text ----
  elements.push(texto(-18, 28, 'Ambiente: Quarto', { size: 29, family: SERIF, color: '#000' }));
  elements.push(texto(-18, 62, 'Temperatura média de acionamento: 26,7 °C', { size: 29, family: SERIF, color: '#000' }));
  elements.push(texto(-18, 96, 'Temperatura média em uso: 24,9 °C', { size: 29, family: SERIF, color: '#000' }));

  return {
    animation: false,
    backgroundColor: '#ffffff',
    textStyle: { fontFamily: SANS },
    grid,
    xAxis,
    yAxis,
    series,
    graphic: { elements },
  };
}

export default function App() {
  const ref = useRef<HTMLDivElement>(null);
  useEffect(() => {
    document.body.style.margin = '0';
    if (!ref.current) return;
    const chart = echarts.init(ref.current, null, { renderer: 'svg' });
    chart.setOption(buildOption() as any);
    return () => chart.dispose();
  }, []);
  return <div ref={ref} style={{ width: 1123, height: 1291 }} />;
}
